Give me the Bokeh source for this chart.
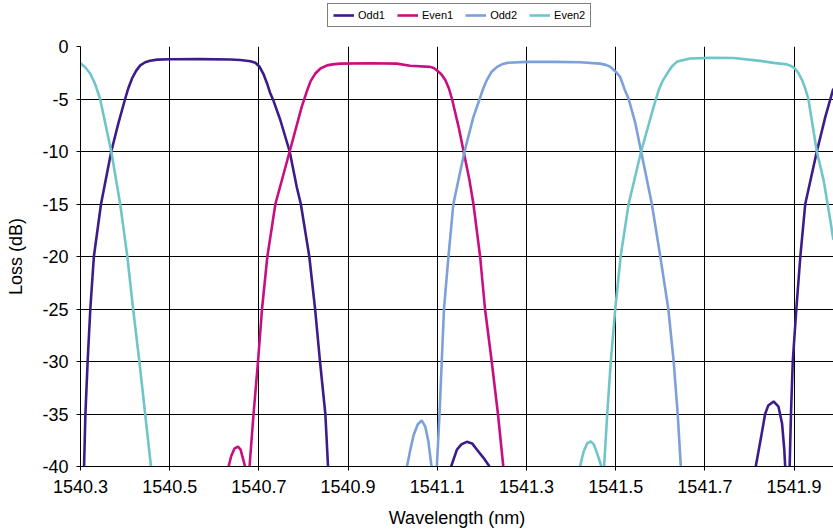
import math
from bokeh.plotting import figure
from bokeh.layouts import column
from bokeh.models import (Range1d, FixedTicker, PrintfTickFormatter, Legend, LegendItem)
from bokeh.embed import file_html
from bokeh.resources import INLINE

nan = float("nan")

# ---- data (wavelength in nm, loss in dB); NaN separates visible segments ----
odd1_wl = [1540.308, 1540.311, 1540.316, 1540.322, 1540.330, 1540.346, 1540.369, 1540.385,
           1540.400, 1540.407, 1540.416, 1540.425, 1540.434, 1540.445, 1540.456, 1540.472,
           1540.501, 1540.568, 1540.636, 1540.658, 1540.681, 1540.692, 1540.701, 1540.710,
           1540.719, 1540.725, 1540.733, 1540.748, 1540.769, 1540.785,
           1540.794, 1540.813, 1540.826, 1540.837, 1540.849, 1540.855,
           nan,
           1541.131, 1541.144, 1541.154, 1541.166, 1541.178, 1541.189, 1541.204, 1541.217,
           nan,
           1541.814, 1541.826, 1541.835, 1541.842, 1541.854, 1541.865, 1541.873, 1541.878, 1541.880,
           nan,
           1541.890, 1541.893, 1541.897, 1541.905, 1541.914, 1541.925, 1541.951, 1541.970, 1541.988]
odd1_loss = [-40, -35, -30, -25, -20, -15, -10, -7.3,
             -5, -4.0, -3.0, -2.3, -1.8, -1.5, -1.35, -1.25,
             -1.22, -1.2, -1.24, -1.28, -1.4, -1.55, -1.9, -2.6,
             -3.6, -4.4, -5.2, -7, -10, -13.4,
             -15, -20, -25, -30, -35, -40,
             nan,
             -40, -38.4, -37.9, -37.65, -37.8, -38.4, -39.2, -40,
             nan,
             -40, -37.2, -35.0, -34.2, -33.8, -34.3, -35.9, -38.4, -40,
             nan,
             -40, -35, -30, -25, -20, -15, -10, -6.7, -4]

even1_wl = [1540.632, 1540.638, 1540.645, 1540.653, 1540.659, 1540.664, 1540.669,
            nan,
            1540.679, 1540.688, 1540.698, 1540.707, 1540.719, 1540.737, 1540.769, 1540.796,
            1540.808, 1540.816, 1540.826, 1540.838, 1540.853, 1540.865, 1540.882, 1540.950,
            1541.009, 1541.039, 1541.084, 1541.092, 1541.099, 1541.109, 1541.118, 1541.126,
            1541.133, 1541.148, 1541.159, 1541.172, 1541.181, 1541.196,
            1541.207, 1541.222, 1541.236, 1541.248]
even1_loss = [-40, -39.0, -38.3, -38.1, -38.4, -39.2, -40,
              nan,
              -40, -35, -30, -25, -20, -15, -10, -5.75,
              -4.2, -3.3, -2.6, -2.1, -1.8, -1.7, -1.63, -1.6,
              -1.63, -1.84, -1.94, -2.05, -2.26, -2.65, -3.2, -4.0,
              -5, -7.7, -10, -12.7, -15, -20,
              -25, -30, -35, -40]

odd2_wl = [1541.032, 1541.040, 1541.047, 1541.056, 1541.065, 1541.073, 1541.080, 1541.087,
           nan,
           1541.099, 1541.105, 1541.110, 1541.115, 1541.125, 1541.136, 1541.161, 1541.181,
           1541.195, 1541.203, 1541.211, 1541.222, 1541.234, 1541.245, 1541.256, 1541.301,
           1541.364, 1541.420, 1541.465, 1541.478, 1541.488, 1541.500, 1541.510, 1541.521,
           1541.529, 1541.544, 1541.557, 1541.570,
           1541.581, 1541.600, 1541.618, 1541.630, 1541.639, 1541.646]
odd2_loss = [-40, -38.3, -37.0, -36.0, -35.6, -36.2, -37.6, -40,
             nan,
             -40, -35, -30, -25, -20, -15, -10, -6.7,
             -5, -4.0, -3.2, -2.4, -1.94, -1.7, -1.56, -1.46,
             -1.46, -1.5, -1.63, -1.75, -1.94, -2.4, -2.9, -4.2,
             -5, -7.3, -10, -12.7,
             -15, -20, -25, -30, -35, -40]

even2_wl = [1540.300, 1540.311, 1540.322, 1540.333, 1540.344, 1540.369, 1540.389, 1540.405,
            1540.418, 1540.432, 1540.445, 1540.458,
            nan,
            1541.420, 1541.428, 1541.436, 1541.444, 1541.451, 1541.458, 1541.468,
            nan,
            1541.474, 1541.481, 1541.489, 1541.499, 1541.511, 1541.529, 1541.557, 1541.585,
            1541.596, 1541.605, 1541.615, 1541.626, 1541.637, 1541.650, 1541.667, 1541.712,
            1541.764, 1541.824, 1541.854, 1541.884, 1541.893, 1541.902, 1541.910, 1541.918,
            1541.925, 1541.932, 1541.951, 1541.966, 1541.981, 1541.988]
even2_loss = [-1.6, -2.0, -2.6, -3.6, -5, -10, -15, -20,
              -25, -30, -35, -40,
              nan,
              -40, -38.6, -37.8, -37.6, -37.9, -38.7, -40,
              nan,
              -40, -35, -30, -25, -20, -15, -10, -5.75,
              -4.2, -3.3, -2.6, -1.9, -1.46, -1.3, -1.15, -1.08,
              -1.1, -1.37, -1.56, -1.7, -1.85, -2.1, -2.55, -3.2,
              -4.0, -5, -10, -12.7, -16.5, -18.4]

series_names = ["Odd1", "Even1", "Odd2", "Even2"]
series_colors = ["#3C1C8A", "#C80F82", "#7BA0DA", "#6FC5C8"]

x_ticks = [1540.3, 1540.5, 1540.7, 1540.9, 1541.1, 1541.3, 1541.5, 1541.7, 1541.9]
y_ticks = [0, -5, -10, -15, -20, -25, -30, -35, -40]

FONT = "Liberation Sans"
LINE_W = 2.6
data = [(odd1_wl, odd1_loss), (even1_wl, even1_loss), (odd2_wl, odd2_loss), (even2_wl, even2_loss)]
X_END = 1540.3 + 753 / 446.0

# ---------------- legend strip (above the chart) ----------------
# same series, drawn into a range where they are out of view: only the legend shows
leg_fig = figure(width=833, height=38, output_backend="svg", toolbar_location=None,
                 x_range=Range1d(1540.3, X_END), y_range=Range1d(100, 101),
                 x_axis_location=None, y_axis_location=None,
                 min_border_left=80, min_border_right=0, min_border_top=0, min_border_bottom=0)
leg_fig.outline_line_color = None
leg_fig.xgrid.visible = False
leg_fig.ygrid.visible = False
leg_fig.background_fill_color = "white"
leg_fig.border_fill_color = "white"

leg_items = []
for (xs, ys), name, col in zip(data, series_names, series_colors):
    r = leg_fig.line(xs, ys, line_color=col, line_width=LINE_W)
    leg_items.append(LegendItem(label=name, renderers=[r]))

legend = Legend(items=leg_items, orientation="horizontal", location=(247, 11),
                label_text_font=FONT, label_text_font_size="11px", label_text_color="black",
                label_height=10, glyph_height=10, glyph_width=21, label_standoff=4,
                spacing=12, padding=5, margin=0,
                border_line_color="black", border_line_width=1,
                background_fill_color="white", background_fill_alpha=1.0)
leg_fig.add_layout(legend, "center")

# ---------------- main chart ----------------
p = figure(width=833, height=493, output_backend="svg", toolbar_location=None,
           x_range=Range1d(1540.3, X_END), y_range=Range1d(-40, 0),
           min_border_left=80, min_border_right=0, min_border_top=8, min_border_bottom=65)
p.outline_line_color = None
p.background_fill_color = "white"
p.border_fill_color = "white"

for ax in (p.xaxis[0], p.yaxis[0]):
    ax.axis_line_color = "black"
    ax.axis_line_width = 1
    ax.major_tick_line_color = "black"
    ax.major_tick_out = 4
    ax.major_tick_in = 0
    ax.minor_tick_line_color = None
    ax.major_label_text_font = FONT
    ax.major_label_text_font_size = "18px"
    ax.major_label_text_color = "black"
    ax.axis_label_text_font = FONT
    ax.axis_label_text_font_size = "18px"
    ax.axis_label_text_font_style = "normal"
    ax.axis_label_text_color = "black"

p.xaxis.ticker = FixedTicker(ticks=x_ticks)
p.xaxis.formatter = PrintfTickFormatter(format="%.1f")
p.xaxis.axis_label = "Wavelength (nm)"
p.xaxis.major_label_standoff = 9
p.xaxis.axis_label_standoff = 12

p.yaxis.ticker = FixedTicker(ticks=y_ticks)
p.yaxis.formatter = PrintfTickFormatter(format="%d")
p.yaxis.axis_label = "Loss (dB)"
p.yaxis.major_label_standoff = 8
p.yaxis.axis_label_standoff = 13

p.xgrid.grid_line_color = "black"
p.xgrid.grid_line_width = 1
p.ygrid.grid_line_color = "black"
p.ygrid.grid_line_width = 1

for (xs, ys), name, col in zip(data, series_names, series_colors):
    p.line(xs, ys, line_color=col, line_width=LINE_W)

layout = column(leg_fig, p, spacing=0)
open("out.html", "w").write(file_html(layout, INLINE))
